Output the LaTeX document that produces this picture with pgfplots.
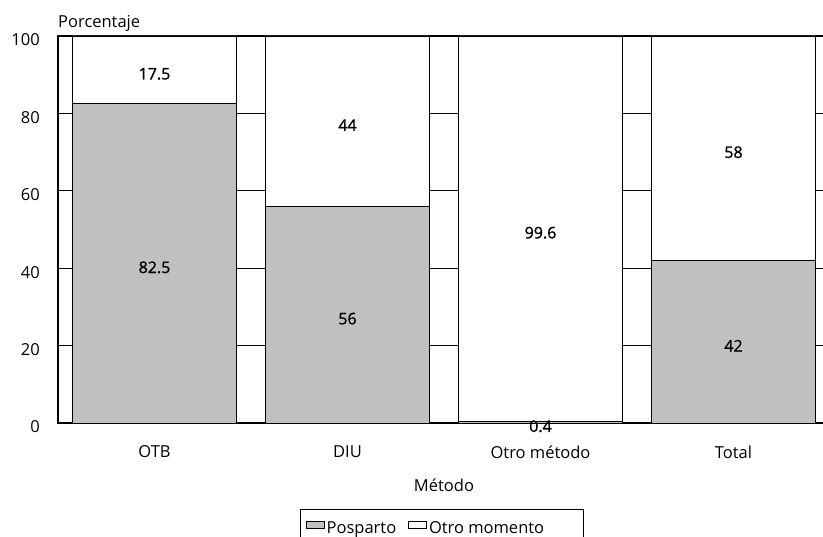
\documentclass[border=0pt]{standalone}
\usepackage{pgfplots}
\pgfplotsset{compat=1.18}
\usepackage{fontspec}
\setmainfont{Open Sans}
\newfontfamily\labfont[FakeBold=1.2]{Open Sans}
\definecolor{barGray}{RGB}{192,192,192}
\begin{document}
\begin{tikzpicture}
\useasboundingbox (0,0) rectangle (823pt,537pt);
\clip (0,0) rectangle (823pt,537pt);
\begin{axis}[
  at={(58pt,114pt)}, anchor=south west,
  width=772pt, height=387pt, scale only axis,
  ybar stacked, bar width=0.85,
  xmin=-0.5, xmax=3.5, ymin=0, ymax=100,
  xtick={0,1,2,3}, xticklabels={OTB,DIU,Otro método,Total},
  ytick={0,20,...,100},
  ymajorgrids, grid style={black, line width=0.8pt},
  major tick length=0pt,
  axis line style={line width=2.5pt},
  font=\fontsize{16.5}{19}\selectfont,
  /pgf/number format/assume math mode=true,
  xticklabel style={anchor=center, yshift=-29pt},
  yticklabel style={anchor=east, inner sep=0pt, xshift=-18pt, yshift=-4pt},
  xlabel={Método}, ylabel={Porcentaje},
  every axis x label/.style={at={(axis description cs:0.5,0)}, anchor=center, yshift=-62pt},
  every axis y label/.style={at={(rel axis cs:0,1)}, anchor=base west, inner sep=0pt, yshift=8pt},
  legend columns=2,
  legend style={at={(axis description cs:0.4915,-0.228)}, anchor=north west, xshift=-137pt, yshift=2pt, draw=black, line width=0.8pt,
    font=\fontsize{16.5}{19}\selectfont, inner xsep=5pt, inner ysep=10pt,
    /tikz/every even column/.append style={column sep=10pt}},
  nodes near coords,
  point meta=explicit,
  every node near coord/.append style={anchor=center, yshift=-4pt, font=\labfont\fontsize{16}{19}\selectfont},
]
\addplot[fill=barGray, draw=black, line width=0.8pt,
  legend image code/.code={\draw[fill=barGray, draw=black, line width=0.8pt] (0pt,0pt) rectangle (18pt,7pt);}]
  coordinates {(0,82.5) [82.5] (1,56) [56] (2,0.4) [0.4] (3,42) [42]};
\addlegendentry{Posparto}
\addplot[fill=white, draw=black, line width=0.8pt,
  legend image code/.code={\draw[fill=white, draw=black, line width=0.8pt] (0pt,0pt) rectangle (18pt,7pt);}]
  coordinates {(0,17.5) [17.5] (1,44) [44] (2,99.6) [99.6] (3,58) [58]};
\addlegendentry{Otro momento\kern32pt}
\draw[line width=2.5pt] (rel axis cs:0,0) -- (rel axis cs:1,0);
\draw[line width=2.5pt] (rel axis cs:0,1) -- (rel axis cs:1,1);
\draw[line width=2.5pt] (rel axis cs:0,0) -- (rel axis cs:0,1);
\end{axis}
\end{tikzpicture}
\end{document}
